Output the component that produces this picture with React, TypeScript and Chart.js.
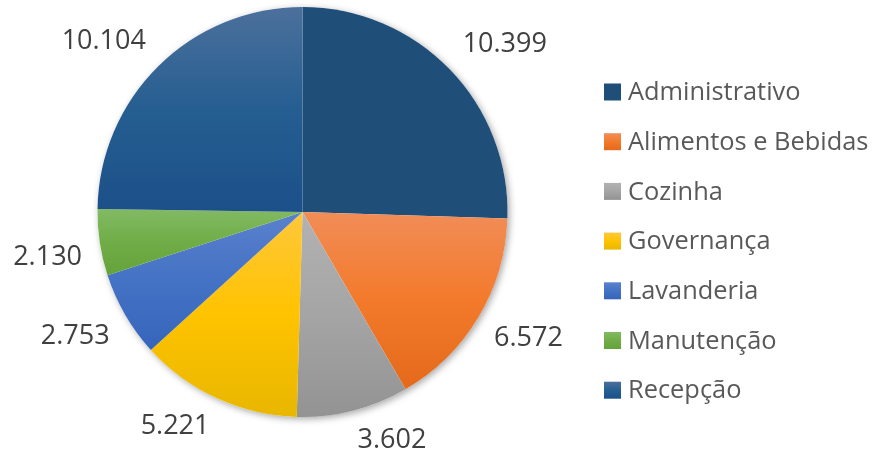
import { useEffect, useRef } from 'react';
import { Chart, registerables } from 'chart.js';

Chart.register(...registerables);

// data
const categories = [
   'Administrativo',
   'Alimentos e Bebidas',
   'Cozinha',
   'Governança',
   'Lavanderia',
   'Manutenção',
   'Recepção',
];
const values = [10399, 6572, 3602, 5221, 2753, 2130, 10104];

// top / middle / bottom colour of each slice gradient
const sliceColors = [
   ['#1f4e79', '#1f4e79', '#1f4e79'],
   ['#f18d58', '#f37a2b', '#e4691b'],
   ['#b2b2b2', '#a5a5a5', '#939393'],
   ['#ffc73c', '#ffc300', '#e8b700'],
   ['#5a81cd', '#4472c4', '#3565bb'],
   ['#82ba64', '#70ad47', '#64a23a'],
   ['#4c709c', '#255e91', '#1b5088'],
];

const LABEL_FONT = '27px "Open Sans"';
const LEGEND_FONT = '25.4px "Open Sans"';

const formatValue = (v: number) => String(v).replace(/\B(?=(\d{3})+(?!\d))/g, '.');

const makeGradient = (ctx: CanvasRenderingContext2D, top: number, bottom: number, c: string[]) => {
   const g = ctx.createLinearGradient(0, top, 0, bottom);
   g.addColorStop(0, c[0]);
   g.addColorStop(0.5, c[1]);
   g.addColorStop(1, c[2]);
   return g;
};

// soft shadow under the pie and a vertical gradient per slice
const sliceStylePlugin = {
   id: 'sliceStyle',
   beforeDatasetsDraw(chart: any) {
      const ctx = chart.ctx as CanvasRenderingContext2D;
      const meta = chart.getDatasetMeta(0);
      if (!meta.data.length) return;
      const first = meta.data[0];

      ctx.save();
      ctx.shadowColor = 'rgba(0,0,0,0.35)';
      ctx.shadowBlur = 7;
      ctx.shadowOffsetX = 2;
      ctx.shadowOffsetY = 2;
      ctx.fillStyle = '#ffffff';
      ctx.beginPath();
      ctx.arc(first.x, first.y, first.outerRadius, 0, Math.PI * 2);
      ctx.fill();
      ctx.restore();

      meta.data.forEach((arc: any, i: number) => {
         const { x, y, startAngle, endAngle, outerRadius } = arc;
         let top = y;
         let bottom = y;
         for (let k = 0; k <= 60; k++) {
            const a = startAngle + ((endAngle - startAngle) * k) / 60;
            const py = y + Math.sin(a) * outerRadius;
            top = Math.min(top, py);
            bottom = Math.max(bottom, py);
         }
         arc.options = {
            ...arc.options,
            backgroundColor: makeGradient(ctx, top, bottom, sliceColors[i]),
         };
      });
   },
};

// value labels outside the pie
const outsideLabelsPlugin = {
   id: 'outsideLabels',
   afterDatasetsDraw(chart: any) {
      const ctx = chart.ctx as CanvasRenderingContext2D;
      const meta = chart.getDatasetMeta(0);
      ctx.save();
      ctx.font = LABEL_FONT;
      ctx.fillStyle = '#404040';
      ctx.textAlign = 'center';
      ctx.textBaseline = 'middle';
      meta.data.forEach((arc: any, i: number) => {
         const { x, y, startAngle, endAngle, outerRadius } = arc;
         const mid = (startAngle + endAngle) / 2;
         const text = formatValue(values[i]);
         const halfW = ctx.measureText(text).width / 2;
         const halfH = 12;
         const cos = Math.cos(mid);
         const sin = Math.sin(mid);
         const ax = x + cos * (outerRadius + 18);
         const ay = y + sin * (outerRadius + 18);
         ctx.fillText(text, ax + Math.sign(cos) * halfW, ay + Math.sign(sin) * halfH);
      });
      ctx.restore();
   },
};

// legend column on the right
const sideLegendPlugin = {
   id: 'sideLegend',
   afterDraw(chart: any) {
      const ctx = chart.ctx as CanvasRenderingContext2D;
      const boxX = 604;
      const box = 17;
      const textX = 628;
      const firstY = 92;
      const step = 49.7;
      ctx.save();
      ctx.font = LEGEND_FONT;
      ctx.textAlign = 'left';
      ctx.textBaseline = 'middle';
      categories.forEach((name, i) => {
         const cy = firstY + i * step;
         ctx.fillStyle = makeGradient(ctx, cy - box / 2, cy + box / 2, sliceColors[i]);
         ctx.fillRect(boxX, cy - box / 2, box, box);
         ctx.fillStyle = '#595959';
         ctx.fillText(name, textX, cy + 1);
      });
      ctx.restore();
   },
};

export default function App() {
   const chartRef = useRef<HTMLCanvasElement>(null);
   const chartInstance = useRef<Chart | null>(null);

   useEffect(() => {
      if (!chartRef.current) return;
      const ctx = chartRef.current.getContext('2d');
      if (!ctx) return;

      if (chartInstance.current) {
         chartInstance.current.destroy();
      }

      chartInstance.current = new Chart(ctx, {
         type: 'pie',
         data: {
            labels: categories,
            datasets: [{
               data: values,
               backgroundColor: sliceColors.map(c => c[1]),
               borderWidth: 0,
            }]
         },
         options: {
            responsive: false,
            animation: false,
            layout: {
               padding: { left: 97.5, right: 366.5, top: 7, bottom: 36 }
            },
            plugins: {
               legend: { display: false },
               tooltip: { enabled: false }
            }
         },
         plugins: [sliceStylePlugin, outsideLabelsPlugin, sideLegendPlugin]
      });

      return () => {
         if (chartInstance.current) {
            chartInstance.current.destroy();
            chartInstance.current = null;
         }
      };
   }, []);

   return (
      <div style={{ position: 'fixed', left: 0, top: 0, width: 874, height: 453, background: '#ffffff' }}>
         <canvas ref={chartRef} width={874} height={453}></canvas>
      </div>
   );
}
